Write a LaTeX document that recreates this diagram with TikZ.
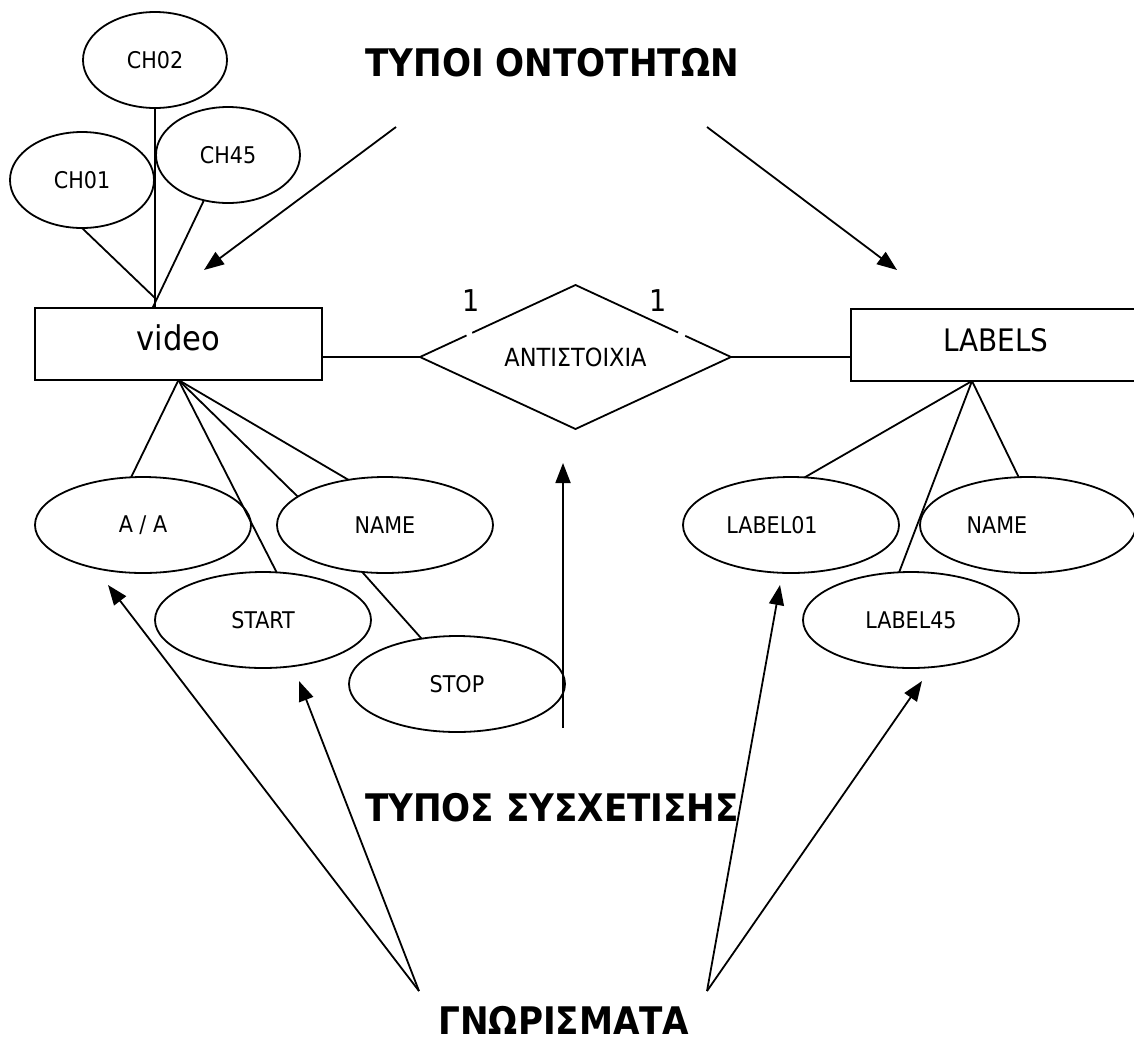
\documentclass[tikz,border=0pt]{standalone}
\usepackage{fontspec}
\setmainfont{DejaVu Sans Condensed}
\usetikzlibrary{shapes.geometric,arrows.meta,calc}
\begin{document}
\begin{tikzpicture}[x=1pt,y=-1pt,
  line width=1.8pt,
  every node/.style={inner sep=0pt, outer sep=0pt},
  entity/.style={draw, rectangle, minimum height=72pt,
    font=\fontsize{31}{36}\selectfont, text height=23pt, text depth=10pt},
  attr/.style={draw, ellipse, minimum width=216pt, minimum height=96pt,
    font=\fontsize{23}{27}\selectfont},
  chattr/.style={attr, minimum width=144pt},
  rel/.style={draw, diamond, shape aspect=2.16, minimum width=311pt, minimum height=144pt,
    font=\fontsize{25}{29}\selectfont},
  card/.style={font=\fontsize{30}{34}\selectfont},
  title/.style={font=\fontsize{38}{44}\selectfont\bfseries},
  link/.style={line width=1.8pt},
  pointer/.style={-{Triangle[length=20pt,width=15pt]}, line width=1.8pt},
  gap/.style={white, line width=4pt, line cap=butt},
]
\useasboundingbox (0,0) rectangle (1134,1042);
\clip (0,0) rectangle (1134,1042);

% entity types
\node[entity, minimum width=287pt, font=\fontsize{34}{38}\selectfont] (video) at (178.5,344) {video};
\node[entity, minimum width=290pt] (labels) at (996,345) {LABELS};

% relationship
\node[rel] (rel) at (575.5,357) {ΑΝΤΙΣΤΟΙΧΙΑ};
\node[card] (c1) at (471,301) {1};
\node[card] (c2) at (658,301) {1};
\draw[gap] ($(rel.west)!0.30!(rel.north)$) -- ($(rel.west)!0.335!(rel.north)$);
\draw[gap] ($(rel.north)!0.66!(rel.east)$) -- ($(rel.north)!0.705!(rel.east)$);
\draw[link] (rel.west) -- (rel.west -| video.east);
\draw[link] (rel.east) -- (rel.east -| labels.west);

% attributes of video
\node[chattr] (ch02) at (155,60) {CH02};
\node[chattr] (ch01) at (82,180) {CH01};
\node[chattr] (ch45) at (228,155) {CH45};
\node[attr] (aa) at (143,525) {A / A};
\node[attr] (vname) at (385,525) {NAME};
\node[attr] (start) at (263,620) {START};
\node[attr] (stop) at (457,684) {STOP};

\coordinate (chjoin) at (155,298);
\draw[link] (ch02.south) -- (video.north -| ch02.south);
\draw[link] (ch01.south) -- (chjoin);
\draw[link] (ch45.242) -- ($(video.north)+(-26,0)$);

\draw[link] (video.south) -- (aa.104);
\draw[link] (video.south) -- (start.74);
\draw[link] (video.south) -- (vname.162);
\draw[link] (video.south) -- (vname.129);
\draw[link] (vname.244) -- (stop.128);

% attributes of LABELS
\node[attr] (l01) at (791,525) {\hspace*{-38pt}LABEL01};
\node[attr] (lname) at (1028,525) {\hspace*{-62pt}NAME};
\node[attr] (l45) at (911,620) {LABEL45};

\coordinate (lapex) at ($(labels.south)+(-24,0)$);
\draw[link] (lapex) -- (l01.74);
\draw[link] (lapex) -- (lname.101);
\draw[link] (lapex) -- (l45.104);

% captions
\node[title] (ttypes) at (552,63) {ΤΥΠΟΙ ΟΝΤΟΤΗΤΩΝ};
\node[title] (trel) at (552,808) {ΤΥΠΟΣ ΣΥΣΧΕΤΙΣΗΣ};
\node[title] (tattr) at (564,1020) {ΓΝΩΡΙΣΜΑΤΑ};

% pointers from the captions
\coordinate (pt1s) at (396,127);
\coordinate (pt1e) at (204,270);
\coordinate (pt2s) at (707,127);
\coordinate (pt2e) at (897,270);
\draw[pointer] (pt1s) -- (pt1e);
\draw[pointer] (pt2s) -- (pt2e);

\coordinate (prs) at (563,728);
\coordinate (pre) at (563,463);
\draw[pointer] (prs) -- (pre);

\coordinate (pal) at (419,991);
\coordinate (par) at (707,991);
\coordinate (paa) at (108,585);
\coordinate (pas) at (299,681);
\coordinate (pal01) at (780,585);
\coordinate (pal45) at (922,681);
\draw[pointer] (pal) -- (paa);
\draw[pointer] (pal) -- (pas);
\draw[pointer] (par) -- (pal01);
\draw[pointer] (par) -- (pal45);
\end{tikzpicture}
\end{document}
